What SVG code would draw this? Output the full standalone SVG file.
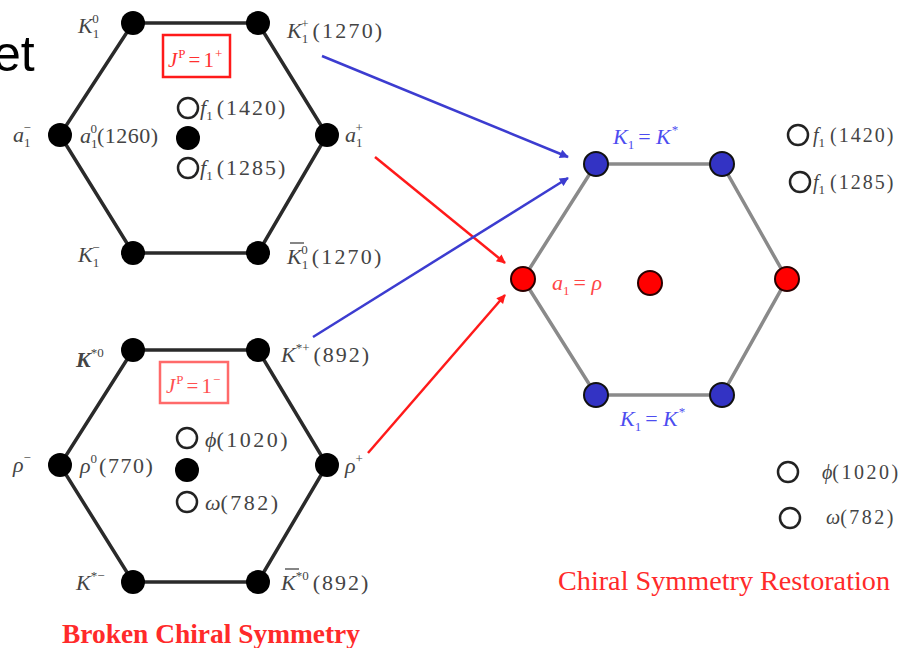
<svg xmlns="http://www.w3.org/2000/svg" width="911" height="648" viewBox="0 0 911 648">
<style>
text{font-family:"Liberation Serif","Times New Roman",serif;font-size:22px;fill:#444}
.it{font-style:italic}
.s{font-size:13px}
.hex{fill:none;stroke:#2a2a2a;stroke-width:3.5}
.hexr{fill:none;stroke:#8a8a8a;stroke-width:3.5}
.bn{fill:#000}
.open{fill:#fff;stroke:#222;stroke-width:2.5}
.blue{fill:#3333c4;stroke:#111;stroke-width:2}
.red{fill:#ff0000;stroke:#2a0000;stroke-width:2}
.ab{stroke:#3c3cd0;stroke-width:2.5;fill:none}
.ar{stroke:#ff1a1a;stroke-width:2.5;fill:none}
.bar{stroke:#444;stroke-width:1.3}
</style>
<defs>
<marker id="mb" viewBox="0 0 10 10" refX="9" refY="5" markerWidth="11" markerHeight="9" markerUnits="userSpaceOnUse" orient="auto"><path d="M0,0 L10,5 L0,10 Z" fill="#3c3cd0"/></marker>
<marker id="mr" viewBox="0 0 10 10" refX="9" refY="5" markerWidth="11" markerHeight="9" markerUnits="userSpaceOnUse" orient="auto"><path d="M0,0 L10,5 L0,10 Z" fill="#ff1a1a"/></marker>
</defs>
<rect width="911" height="648" fill="#fff"/>
<text x="-7" y="71" style="font-family:'Liberation Sans',Arial,sans-serif;font-size:50px;fill:#000">et</text>

<g id="axial-octet">
<polygon class="hex" points="133,23 258,23 327,135 258,253 133,253 60,135"/>
<circle class="bn" cx="133" cy="23" r="12"/><circle class="bn" cx="258" cy="23" r="12"/>
<circle class="bn" cx="327" cy="135" r="12"/><circle class="bn" cx="258" cy="253" r="12"/>
<circle class="bn" cx="133" cy="253" r="12"/><circle class="bn" cx="60" cy="135" r="12"/>
<circle class="bn" cx="188" cy="138" r="12"/>
<circle class="open" cx="188" cy="108" r="10"/><circle class="open" cx="188" cy="168" r="10"/>
<rect x="163" y="35" width="67" height="42" fill="none" stroke="#ff1a1a" stroke-width="2.5"/>
<text x="168" y="67" style="fill:#ff3030;font-size:21px"><tspan class="it">J</tspan><tspan class="s" dx="1" dy="-9">P</tspan><tspan dx="3" dy="9">=</tspan><tspan dx="3">1</tspan><tspan class="s" dx="1" dy="-9">+</tspan></text>
<text x="78" y="33"><tspan class="it">K</tspan><tspan class="s" dy="5">1</tspan><tspan class="s" dx="-7" dy="-15">0</tspan></text>
<text x="287" y="38"><tspan class="it">K</tspan><tspan class="s" dy="5">1</tspan><tspan class="s" dx="-7" dy="-15">+</tspan><tspan dx="4" dy="10" letter-spacing="2.2">(1270)</tspan></text>
<text x="13" y="142"><tspan class="it">a</tspan><tspan class="s" dy="5">1</tspan><tspan class="s" dx="-7" dy="-15">−</tspan></text>
<text x="80" y="143"><tspan class="it">a</tspan><tspan class="s" dy="5">1</tspan><tspan class="s" dx="-7" dy="-15">0</tspan><tspan dy="10" letter-spacing="0.5">(1260)</tspan></text>
<text x="200" y="115"><tspan class="it">f</tspan><tspan class="s" dy="5">1</tspan><tspan dx="4" dy="-5" letter-spacing="2">(1420)</tspan></text>
<text x="200" y="175"><tspan class="it">f</tspan><tspan class="s" dy="5">1</tspan><tspan dx="4" dy="-5" letter-spacing="2">(1285)</tspan></text>
<text x="345" y="142"><tspan class="it">a</tspan><tspan class="s" dy="5">1</tspan><tspan class="s" dx="-7" dy="-15">+</tspan></text>
<text x="78" y="262"><tspan class="it">K</tspan><tspan class="s" dy="5">1</tspan><tspan class="s" dx="-7" dy="-15">−</tspan></text>
<line class="bar" x1="290" y1="243" x2="304" y2="243"/>
<text x="287" y="264"><tspan class="it">K</tspan><tspan class="s" dy="5">1</tspan><tspan class="s" dx="-7" dy="-15">0</tspan><tspan dx="4" dy="10" letter-spacing="2.2">(1270)</tspan></text>
</g>

<g id="vector-octet">
<polygon class="hex" points="133,350 258,350 327,465 258,582 133,582 60,465"/>
<circle class="bn" cx="133" cy="350" r="12"/><circle class="bn" cx="258" cy="350" r="12"/>
<circle class="bn" cx="327" cy="465" r="12"/><circle class="bn" cx="258" cy="582" r="12"/>
<circle class="bn" cx="133" cy="582" r="12"/><circle class="bn" cx="60" cy="465" r="12"/>
<circle class="bn" cx="187" cy="470" r="12"/>
<circle class="open" cx="187" cy="438" r="10"/><circle class="open" cx="187" cy="502" r="10"/>
<rect x="160" y="362" width="68" height="41" fill="none" stroke="#ff6a6a" stroke-width="2.5"/>
<text x="166" y="393" style="fill:#ff5050;font-size:21px"><tspan class="it">J</tspan><tspan class="s" dx="1" dy="-9">P</tspan><tspan dx="3" dy="9">=</tspan><tspan dx="3">1</tspan><tspan class="s" dx="1" dy="-9">−</tspan></text>
<text x="76" y="367"><tspan class="it" font-weight="bold">K</tspan><tspan class="s" dy="-10">*0</tspan></text>
<text x="281" y="362"><tspan class="it">K</tspan><tspan class="s" dy="-10">*+</tspan><tspan dx="4" dy="10" letter-spacing="2">(892)</tspan></text>
<text x="13" y="472"><tspan class="it">ρ</tspan><tspan class="s" dy="-10">−</tspan></text>
<text x="80" y="473"><tspan class="it">ρ</tspan><tspan class="s" dy="-10">0</tspan><tspan dx="2" dy="10" letter-spacing="1.5">(770)</tspan></text>
<text x="205" y="447"><tspan class="it">ϕ</tspan><tspan letter-spacing="2.5">(1020)</tspan></text>
<text x="205" y="510"><tspan class="it">ω</tspan><tspan letter-spacing="2.5">(782)</tspan></text>
<text x="345" y="473"><tspan class="it">ρ</tspan><tspan class="s" dy="-10">+</tspan></text>
<text x="76" y="590"><tspan class="it">K</tspan><tspan class="s" dy="-10">*−</tspan></text>
<line class="bar" x1="285" y1="569" x2="299" y2="569"/>
<text x="281" y="590"><tspan class="it">K</tspan><tspan class="s" dy="-10">*0</tspan><tspan dx="4" dy="10" letter-spacing="2">(892)</tspan></text>
<text x="62" y="643" textLength="298" lengthAdjust="spacingAndGlyphs" style="fill:#ff2a2a;font-size:27px;font-weight:bold">Broken Chiral Symmetry</text>
</g>

<g id="restored">
<polygon class="hexr" points="596,164 722,164 787,279 722,395 596,395 523,279"/>
<circle class="blue" cx="596" cy="164" r="12"/><circle class="blue" cx="722" cy="164" r="12"/>
<circle class="blue" cx="722" cy="395" r="12"/><circle class="blue" cx="596" cy="395" r="12"/>
<circle class="red" cx="787" cy="279" r="12"/><circle class="red" cx="523" cy="279" r="12"/>
<circle class="red" cx="650" cy="283" r="12"/>
<text x="613" y="144" style="fill:#4d4df0"><tspan class="it">K</tspan><tspan class="s" dy="5">1</tspan><tspan dx="4" dy="-5">= </tspan><tspan class="it">K</tspan><tspan class="s" dx="1" dy="-10">*</tspan></text>
<text x="552" y="290" style="fill:#ff4545"><tspan class="it">a</tspan><tspan class="s" dy="5">1</tspan><tspan dx="4" dy="-5">= </tspan><tspan class="it">ρ</tspan></text>
<text x="620" y="426" style="fill:#4d4df0"><tspan class="it">K</tspan><tspan class="s" dy="5">1</tspan><tspan dx="4" dy="-5">= </tspan><tspan class="it">K</tspan><tspan class="s" dx="1" dy="-10">*</tspan></text>
<circle class="open" cx="798" cy="135" r="10"/><circle class="open" cx="800" cy="182" r="10"/>
<circle class="open" cx="788" cy="472" r="10"/><circle class="open" cx="790" cy="518" r="10"/>
<text x="813" y="142" style="font-size:20px"><tspan class="it">f</tspan><tspan class="s" dy="5">1</tspan><tspan dx="5" dy="-5" letter-spacing="2">(1420)</tspan></text>
<text x="813" y="189" style="font-size:20px"><tspan class="it">f</tspan><tspan class="s" dy="5">1</tspan><tspan dx="5" dy="-5" letter-spacing="2">(1285)</tspan></text>
<text x="822" y="479" style="font-size:20px"><tspan class="it">ϕ</tspan><tspan letter-spacing="2.5">(1020)</tspan></text>
<text x="826" y="524" style="font-size:20px"><tspan class="it">ω</tspan><tspan letter-spacing="2.5">(782)</tspan></text>
<text x="558" y="590" textLength="332" lengthAdjust="spacingAndGlyphs" style="fill:#ff2a2a;font-size:27px">Chiral Symmetry Restoration</text>
</g>

<g id="connectors">
<line class="ab" x1="322" y1="56" x2="568" y2="157" marker-end="url(#mb)"/>
<line class="ar" x1="375" y1="157" x2="505" y2="263" marker-end="url(#mr)"/>
<line class="ab" x1="313" y1="337" x2="568" y2="178" marker-end="url(#mb)"/>
<line class="ar" x1="368" y1="453" x2="505" y2="295" marker-end="url(#mr)"/>
</g>
</svg>
